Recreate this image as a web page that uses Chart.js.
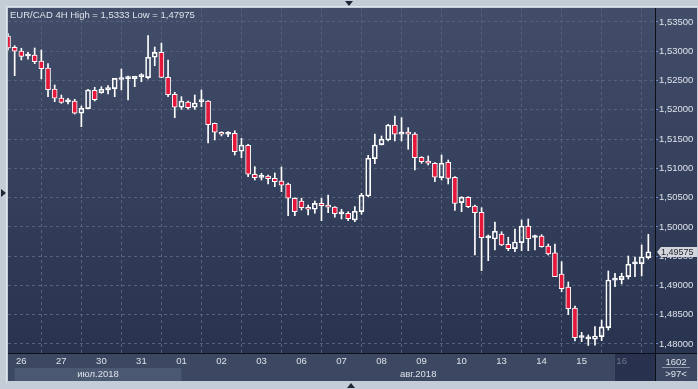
<!DOCTYPE html>
<html>
<head>
<meta charset="utf-8">
<script src="https://cdn.jsdelivr.net/npm/chart.js@4.4.0/dist/chart.umd.min.js"></script>
<style>
html, body { margin: 0; padding: 0; background: #c4ccd7; }
canvas { display: block; }
</style>
</head>
<body>
<canvas id="chart" width="698" height="389"></canvas>
<script>
const title = 'EUR/CAD 4H High = 1,5333 Low = 1,47975';

// 4H candles, oldest first
const opens = [
    1.53261, 1.53068, 1.53005, 1.52919, 1.52936, 1.52834, 1.52714, 1.52356, 1.52202, 1.52137,
    1.52151, 1.51941, 1.52019, 1.52333, 1.52292, 1.52339, 1.52361, 1.52518, 1.52532, 1.52532,
    1.52567, 1.52549, 1.52897, 1.52982, 1.52555, 1.52265, 1.52043, 1.52134, 1.52043, 1.52140,
    1.52151, 1.51770, 1.51616, 1.51582, 1.51599, 1.51292, 1.51394, 1.50899, 1.50847, 1.50870,
    1.50830, 1.50784, 1.50733, 1.50489, 1.50443, 1.50335, 1.50301, 1.50403, 1.50374, 1.50340,
    1.50222, 1.50233, 1.50118, 1.50260, 1.50528, 1.51165, 1.51404, 1.51485, 1.51741, 1.51582,
    1.51621, 1.51587, 1.51189, 1.51126, 1.51087, 1.50841, 1.51104, 1.50848, 1.50414, 1.50506,
    1.50357, 1.50250, 1.49812, 1.49794, 1.49879, 1.49703, 1.49628, 1.49731, 1.50016, 1.49819,
    1.49845, 1.49674, 1.49555, 1.49196, 1.48974, 1.48615, 1.48111, 1.48087, 1.48081, 1.48125,
    1.48279, 1.49090, 1.49099, 1.49150, 1.49368, 1.49372, 1.49474
];
const highs = [
    1.53300, 1.53095, 1.53051, 1.52982, 1.53056, 1.53022, 1.52788, 1.52424, 1.52253, 1.52197,
    1.52180, 1.52065, 1.52351, 1.52385, 1.52395, 1.52412, 1.52538, 1.52697, 1.52578, 1.52573,
    1.52617, 1.53266, 1.53073, 1.53141, 1.52851, 1.52299, 1.52224, 1.52151, 1.52253, 1.52339,
    1.52159, 1.51775, 1.51626, 1.51626, 1.51643, 1.51514, 1.51411, 1.51029, 1.50916, 1.50887,
    1.50921, 1.51023, 1.50750, 1.50499, 1.50489, 1.50374, 1.50443, 1.50489, 1.50545, 1.50345,
    1.50301, 1.50260, 1.50345, 1.50574, 1.51223, 1.51587, 1.51553, 1.51753, 1.51894, 1.51865,
    1.51695, 1.51609, 1.51199, 1.51211, 1.51097, 1.51228, 1.51143, 1.50858, 1.50516, 1.50516,
    1.50374, 1.50328, 1.49862, 1.50084, 1.49918, 1.49823, 1.49964, 1.50118, 1.50135, 1.49862,
    1.49867, 1.49708, 1.49708, 1.49406, 1.49059, 1.48649, 1.48200, 1.48154, 1.48296, 1.48410,
    1.49247, 1.49208, 1.49208, 1.49503, 1.49486, 1.49691, 1.49874
];
const lows = [
    1.53022, 1.52583, 1.52851, 1.52863, 1.52788, 1.52526, 1.52224, 1.52139, 1.52111, 1.52099,
    1.51929, 1.51712, 1.52014, 1.52151, 1.52282, 1.52270, 1.52224, 1.52339, 1.52168, 1.52395,
    1.52480, 1.52526, 1.52754, 1.52549, 1.52224, 1.51865, 1.52009, 1.52009, 1.52009, 1.52053,
    1.51433, 1.51485, 1.51553, 1.51541, 1.51228, 1.51182, 1.50858, 1.50801, 1.50801, 1.50733,
    1.50687, 1.50602, 1.50192, 1.50192, 1.50289, 1.50204, 1.50233, 1.50106, 1.50243, 1.50164,
    1.50135, 1.50106, 1.50089, 1.50216, 1.50516, 1.51080, 1.51399, 1.51468, 1.51468, 1.51468,
    1.51326, 1.50972, 1.51087, 1.51058, 1.50772, 1.50801, 1.50733, 1.50280, 1.50260, 1.50328,
    1.49520, 1.49252, 1.49423, 1.49606, 1.49679, 1.49594, 1.49577, 1.49594, 1.49594, 1.49606,
    1.49652, 1.49520, 1.49150, 1.48894, 1.48501, 1.48052, 1.48040, 1.47975, 1.47978, 1.48057,
    1.48239, 1.48979, 1.49025, 1.49110, 1.49150, 1.49162, 1.49452
];
const closes = [
    1.53056, 1.53000, 1.52914, 1.52931, 1.52822, 1.52702, 1.52344, 1.52197, 1.52128, 1.52151,
    1.51941, 1.52026, 1.52339, 1.52173, 1.52351, 1.52378, 1.52538, 1.52532, 1.52544, 1.52573,
    1.52578, 1.52897, 1.52982, 1.52555, 1.52258, 1.52043, 1.52151, 1.52036, 1.52117, 1.52151,
    1.51746, 1.51616, 1.51582, 1.51590, 1.51285, 1.51399, 1.50899, 1.50841, 1.50856, 1.50824,
    1.50772, 1.50711, 1.50489, 1.50260, 1.50328, 1.50301, 1.50403, 1.50362, 1.50335, 1.50226,
    1.50229, 1.50140, 1.50267, 1.50540, 1.51172, 1.51399, 1.51497, 1.51741, 1.51582, 1.51621,
    1.51582, 1.51182, 1.51114, 1.51087, 1.50848, 1.51087, 1.50830, 1.50403, 1.50506, 1.50345,
    1.50243, 1.49816, 1.49819, 1.49925, 1.49691, 1.49628, 1.49742, 1.50016, 1.49799, 1.49826,
    1.49662, 1.49537, 1.49150, 1.48945, 1.48603, 1.48108, 1.48118, 1.48094, 1.48137, 1.48291,
    1.49093, 1.49097, 1.49157, 1.49362, 1.49375, 1.49486, 1.49575
];

// candle index where each day starts, and its label
const dayTicks = [2, 8, 14, 20, 26, 32, 38, 44, 50, 56, 62, 68, 74, 80, 86, 92];
const dayLabels = ['26', '27', '30', '31', '01', '02', '03', '06', '07', '08', '09', '10', '13', '14', '15', '16'];
const monthLabels = ['июл.2018', 'авг.2018'];
const monthFrom = [1, 26];
const monthTo = [26, 97];

const yTicks = [1.480, 1.485, 1.490, 1.495, 1.500, 1.505, 1.510, 1.515, 1.520, 1.525, 1.530, 1.535];
const lastPrice = 1.49575;
const barCount = '1602';
const visibleCount = '>97<';

const RED = '#e5173a';
const TEXT = '#dde2ea';
const FONT = '9.5px "Liberation Sans", Arial, sans-serif';

function formatPrice(v) {
    return v.toFixed(5).replace('.', ',');
}

const bodyData = closes.map((c, i) => ({ x: i, y: [opens[i], c] }));
const wickData = [];
closes.forEach((c, i) => {
    const top = Math.max(opens[i], c);
    const bottom = Math.min(opens[i], c);
    wickData.push({ x: i, y: [top, highs[i]] });
    wickData.push({ x: i, y: [lows[i], bottom] });
});

const decor = {
    id: 'decor',
    beforeDraw(chart) {
        const { ctx, chartArea: a, scales: { x } } = chart;
        ctx.save();
        ctx.fillStyle = '#c4ccd7';
        ctx.fillRect(0, 0, chart.width, chart.height);
        // light inner edge of the frame
        ctx.fillStyle = '#dfe4ea';
        ctx.fillRect(a.left - 2, a.top - 2, 698 - a.left + 2, 1);
        ctx.fillRect(a.left - 2, a.top - 2, 1, 383 - a.top + 2);

        // plot + price panel
        const g = ctx.createLinearGradient(0, a.top, 0, a.bottom);
        g.addColorStop(0, '#424e69');
        g.addColorStop(1, '#28334f');
        ctx.fillStyle = g;
        ctx.fillRect(a.left, a.top, 697 - a.left, a.bottom - a.top);

        // time panel
        ctx.fillStyle = '#3c4861';
        ctx.fillRect(a.left, a.bottom, 697 - a.left, 381 - a.bottom);

        // july band
        const x0 = x.getPixelForValue(monthFrom[0]);
        const x1 = x.getPixelForValue(monthTo[0]);
        ctx.fillStyle = '#4b5872';
        ctx.fillRect(x0, 368, x1 - x0, 13);

        // current day box
        const xd = x.getPixelForValue(dayTicks[dayTicks.length - 1]) - 8;
        ctx.fillStyle = '#28324e';
        ctx.fillRect(xd, a.bottom, a.right - xd, 381 - a.bottom);
        ctx.fillStyle = '#4a566e';
        ctx.fillRect(xd, a.bottom, 1, 381 - a.bottom);
        ctx.restore();
    },
    afterDraw(chart) {
        const { ctx, chartArea: a, scales: { x, y } } = chart;
        ctx.save();

        // axis lines
        ctx.strokeStyle = '#0b0f18';
        ctx.lineWidth = 1;
        ctx.beginPath();
        ctx.moveTo(a.right + 0.5, a.top);
        ctx.lineTo(a.right + 0.5, 381);
        ctx.moveTo(a.left, a.bottom + 0.5);
        ctx.lineTo(697, a.bottom + 0.5);
        ctx.stroke();

        ctx.font = FONT;
        ctx.textBaseline = 'middle';

        // title
        ctx.fillStyle = TEXT;
        ctx.textAlign = 'left';
        ctx.fillText(title, a.left + 2, 15);

        // months
        ctx.textAlign = 'center';
        monthLabels.forEach((m, i) => {
            const cx = (x.getPixelForValue(monthFrom[i]) + x.getPixelForValue(monthTo[i])) / 2;
            ctx.fillText(m, cx, 374);
        });

        // bar counter box
        const bx = (a.right + 697) / 2;
        ctx.fillText(barCount, bx, 362);
        ctx.fillText(visibleCount, bx, 374);
        ctx.strokeStyle = '#8a96aa';
        ctx.beginPath();
        ctx.moveTo(a.right + 7, 367.5);
        ctx.lineTo(690, 367.5);
        ctx.stroke();

        // last price tag
        const py = Math.round(y.getPixelForValue(lastPrice));
        ctx.fillStyle = '#d3d7dd';
        ctx.beginPath();
        ctx.moveTo(a.right + 2, py);
        ctx.lineTo(a.right + 6, py - 5);
        ctx.lineTo(697, py - 5);
        ctx.lineTo(697, py + 5);
        ctx.lineTo(a.right + 6, py + 5);
        ctx.closePath();
        ctx.fill();
        ctx.fillStyle = '#23272f';
        ctx.textAlign = 'left';
        ctx.font = '9px "Liberation Sans", Arial, sans-serif';
        ctx.fillText(formatPrice(lastPrice), a.right + 6, py + 0.5);

        // frame arrows
        ctx.fillStyle = '#1f2736';
        ctx.beginPath();
        ctx.moveTo(345, 1); ctx.lineTo(353, 1); ctx.lineTo(349, 6); ctx.closePath();
        ctx.moveTo(1, 189); ctx.lineTo(6, 193); ctx.lineTo(1, 197); ctx.closePath();
        ctx.moveTo(347, 388); ctx.lineTo(355, 388); ctx.lineTo(351, 383); ctx.closePath();
        ctx.fill();
        ctx.restore();
    }
};

new Chart(document.getElementById('chart'), {
    type: 'bar',
    data: {
        datasets: [
            {
                data: bodyData,
                backgroundColor: closes.map((c, i) => c < opens[i] ? RED : 'rgba(0,0,0,0)'),
                borderColor: '#ffffff',
                borderWidth: 1,
                borderSkipped: false,
                barThickness: 5,
                minBarLength: 2,
                grouped: false
            },
            {
                data: wickData,
                backgroundColor: '#ffffff',
                borderWidth: 0,
                barThickness: 1,
                grouped: false
            }
        ]
    },
    options: {
        responsive: false,
        animation: false,
        devicePixelRatio: 1,
        layout: { padding: { left: 8, top: 8, right: 0, bottom: 0 } },
        plugins: {
            legend: { display: false },
            tooltip: { enabled: false }
        },
        scales: {
            x: {
                type: 'linear',
                min: 0,
                max: 97,
                offset: false,
                afterBuildTicks: scale => { scale.ticks = dayTicks.map(v => ({ value: v })); },
                afterFit: scale => { scale.height = 36; },
                ticks: {
                    autoSkip: false,
                    maxRotation: 0,
                    padding: 3,
                    font: { family: '"Liberation Sans", Arial, sans-serif', size: 9.5 },
                    color: c => c.index === dayLabels.length - 1 ? '#6f7a8e' : TEXT,
                    callback: (v, i) => dayLabels[i]
                },
                grid: { color: '#56627b', drawTicks: false },
                border: { display: false, dash: [3, 3] }
            },
            y: {
                position: 'right',
                min: 1.47846,
                max: 1.53739,
                afterBuildTicks: scale => { scale.ticks = yTicks.map(v => ({ value: v })); },
                afterFit: scale => { scale.width = 43; },
                ticks: {
                    padding: 1,
                    font: { family: '"Liberation Sans", Arial, sans-serif', size: 9.5 },
                    color: TEXT,
                    callback: v => formatPrice(v)
                },
                grid: { color: '#56627b', tickColor: '#6c8cc4', tickLength: 3, tickBorderDash: [] },
                border: { display: false, dash: [3, 3] }
            }
        }
    },
    plugins: [decor]
});
</script>
</body>
</html>
